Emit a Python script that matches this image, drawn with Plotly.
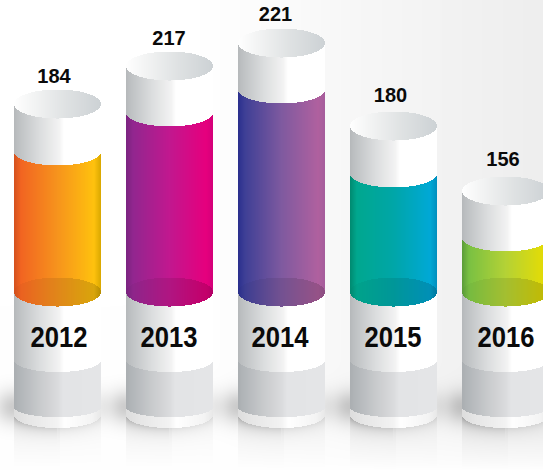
import numpy as np
import plotly.graph_objects as go

# ---- data ----
years = [2012, 2013, 2014, 2015, 2016]
values = [184, 217, 221, 180, 156]
# heights on the chart's y axis (the picture is not drawn to scale of the labels)
cylinder_height = [366, 404, 427, 344, 279]
liquid_level = [318, 357, 380, 296, 232]

liquid_colors = [
    ["#d4511e", "#f26522", "#f7941d", "#ffc20e", "#d9a800"],
    ["#7a2480", "#92278f", "#c2188f", "#e6007e", "#d4007a"],
    ["#2a2f8e", "#3f4096", "#7f5aa0", "#b0619f", "#a65d9c"],
    ["#008a70", "#00a88f", "#00a6a8", "#00a9d6", "#008fbe"],
    ["#5b9c3a", "#7ac143", "#b4d236", "#e2dc08", "#cfcb00"],
]

W, H = 543, 470
PITCH = 112.0
CX0 = 57.5
A, B = 43.5, 14.5
LIQ_FLOOR = 178
GRAY_TOP = 110
GRAY_END = 63
FOOT_END = 55

# label placement, in pixels from the picture
VALUE_DX = [-3.5, -0.5, -6, -3, -2.5]
VALUE_PY = [78, 40, 16, 97, 161]
YEAR_DX = [1.5, -0.5, -1.5, -0.5, 0.5]
YEAR_PY = 339


def to_x(px):
    return years[0] + (np.asarray(px, float) - CX0) / PITCH


def hex_rgb(h):
    return np.array([int(h[i:i + 2], 16) for i in (1, 3, 5)], float)


def ramp(t, stops, colors, mul=1.0):
    arr = np.array([hex_rgb(c) for c in colors])
    u = (t + 1) / 2
    rgb = [np.interp(u, stops, arr[:, k]) * mul for k in range(3)]
    return ["rgb(%d,%d,%d)" % (r, g, b) for r, g, b in zip(*rgb)]


t_px = np.arange(87) + 0.5
t = (t_px - A) / A
ell = B * np.sqrt(np.clip(1 - t ** 2, 0, 1))
ell_liq = ell * 0.92
ell_gray = ell * 0.83
ell_gray_end = ell * 0.7
ell_foot = ell * 0.9
floor_mul = 0.98 - 0.14 * (t + 1) / 2

LIQ_STOPS = [0, 0.08, 0.5, 0.92, 1]
SILVER_STOPS = [0, 0.06, 0.3, 0.52, 0.57, 1]
SILVER = ["#b6b9bb", "#bfc2c4", "#dcdedf", "#f3f3f3", "#ffffff", "#ffffff"]
GRAY_STOPS = [0, 0.05, 0.3, 0.5, 0.56, 1]
GRAY = ["#abafb2", "#b0b4b7", "#c9cbcd", "#dadbdd", "#e3e4e6", "#e5e6e8"]
FOOT_STOPS = [0, 0.15, 0.5, 0.58, 0.9, 1]
FOOT = ["#dddddd", "#e6e6e6", "#f3f3f3", "#ffffff", "#f4f4f4", "#e8e8e8"]
INNER_STOPS = [0, 0.25, 0.6, 1]
INNER = ["#ffffff", "#f2f3f3", "#dfe2e3", "#cdd2d5"]


def band(upper, lower, colors_for):
    xs, base, hgt, col = [], [], [], []
    for i in range(len(years)):
        cx = CX0 + PITCH * i
        xs.append(to_x(cx - A + t_px))
        lo = lower(i)
        up = upper(i)
        base.append(lo)
        hgt.append(up - lo)
        col.extend(colors_for(i))
    return go.Bar(
        x=np.concatenate(xs), y=np.concatenate(hgt), base=np.concatenate(base),
        width=1.0 / PITCH, marker=dict(color=col, line=dict(width=0)),
        hoverinfo="skip", showlegend=False,
    )


# ---- background with soft shadows and reflections ----
px_x = np.arange(W) + 0.5
px_y = np.arange(H) + 0.5
XX, YY = np.meshgrid(px_x, px_y)
bg = 255 - 17 * np.clip((XX - 200) / 343, 0, 1) * np.clip((470 - YY) / 70, 0, 1) ** 0.7
for i in range(len(years)):
    cx = CX0 + PITCH * i
    dx = XX - cx
    left = np.clip(-dx - A, 0, None)
    right = np.clip(dx - A, 0, None)
    vert = np.exp(-((YY - 407) ** 2) / (2 * 12.0 ** 2))
    bg -= 50 * np.exp(-(left ** 2) / (2 * 13.0 ** 2)) * vert * (dx < 0)
    bg -= 14 * np.exp(-(right ** 2) / (2 * 6.0 ** 2)) * vert * (dx > 0)
    inside = np.abs(dx) <= A
    tt = np.clip(dx / A, -1, 1)
    arc = (H - FOOT_END) + 0.9 * B * np.sqrt(1 - tt ** 2)
    below = np.clip(YY - arc, 0, None)
    bg -= inside * (YY > arc) * (34 * np.exp(-below / 6.0) * (1 - 0.5 * (tt + 1) / 2)
                                 + 9 * (1 - 0.5 * (tt > 0.05)) * np.clip((470 - YY) / 35, 0, 1))

bg_trace = go.Heatmap(
    x=to_x(px_x), y=H - px_y, z=np.clip(bg, 0, 255).astype(np.uint8),
    zmin=0, zmax=255, colorscale=[[0, "#000000"], [1, "#ffffff"]],
    showscale=False, hoverinfo="skip",
)

traces = [bg_trace]
h = cylinder_height
lv = liquid_level
# inner rim
traces.append(band(lambda i: h[i] + ell, lambda i: h[i] - ell,
                   lambda i: ramp(t, INNER_STOPS, INNER)))
# empty glass above the liquid
traces.append(band(lambda i: h[i] - ell, lambda i: lv[i] - ell_liq,
                   lambda i: ramp(t, SILVER_STOPS, SILVER)))
# liquid column
traces.append(band(lambda i: lv[i] - ell_liq, lambda i: LIQ_FLOOR - ell,
                   lambda i: ramp(t, LIQ_STOPS, liquid_colors[i])))
# darker liquid floor
traces.append(band(lambda i: LIQ_FLOOR + ell, lambda i: LIQ_FLOOR - ell,
                   lambda i: ramp(t, LIQ_STOPS, liquid_colors[i], floor_mul)))
# white label section
traces.append(band(lambda i: LIQ_FLOOR - ell, lambda i: GRAY_TOP - ell_gray,
                   lambda i: ramp(t, SILVER_STOPS, SILVER)))
# gray section
traces.append(band(lambda i: GRAY_TOP - ell_gray, lambda i: GRAY_END - ell_gray_end,
                   lambda i: ramp(t, GRAY_STOPS, GRAY)))
# foot
traces.append(band(lambda i: GRAY_END - ell_gray_end, lambda i: FOOT_END - ell_foot,
                   lambda i: ramp(t, FOOT_STOPS, FOOT)))

traces.append(go.Scatter(
    x=[float(to_x(CX0 + PITCH * i + VALUE_DX[i])) for i in range(5)],
    y=[H - p for p in VALUE_PY], mode="text", text=[str(v) for v in values],
    textfont=dict(family="Liberation Sans", size=20, color="#0a0a0a", weight="bold"),
    hoverinfo="skip", showlegend=False,
))
traces.append(go.Scatter(
    x=[float(to_x(CX0 + PITCH * i + YEAR_DX[i])) for i in range(5)],
    y=[H - YEAR_PY] * len(years), mode="text", text=[str(y) for y in years],
    textfont=dict(family="Liberation Sans", size=30, color="#0a0a0a", weight="bold"),
    hoverinfo="skip", showlegend=False,
))

fig = go.Figure(traces)
fig.update_layout(
    width=W, height=H, margin=dict(l=0, r=0, t=0, b=0),
    paper_bgcolor="#ffffff", plot_bgcolor="#ffffff",
    barmode="overlay", bargap=0, showlegend=False,
    xaxis=dict(range=[float(to_x(0)), float(to_x(W))], visible=False, fixedrange=True),
    yaxis=dict(range=[0, H], visible=False, fixedrange=True),
)
post = """
document.body.style.margin='0';document.body.style.overflow='hidden';
document.querySelectorAll('.textpoint text').forEach(function(n){
  if(n.textContent.trim().length===4){
    n.setAttribute('textLength','57');
    n.setAttribute('lengthAdjust','spacingAndGlyphs');
  }
});
"""
fig.write_html("out.html", config={"displayModeBar": False}, post_script=post)
